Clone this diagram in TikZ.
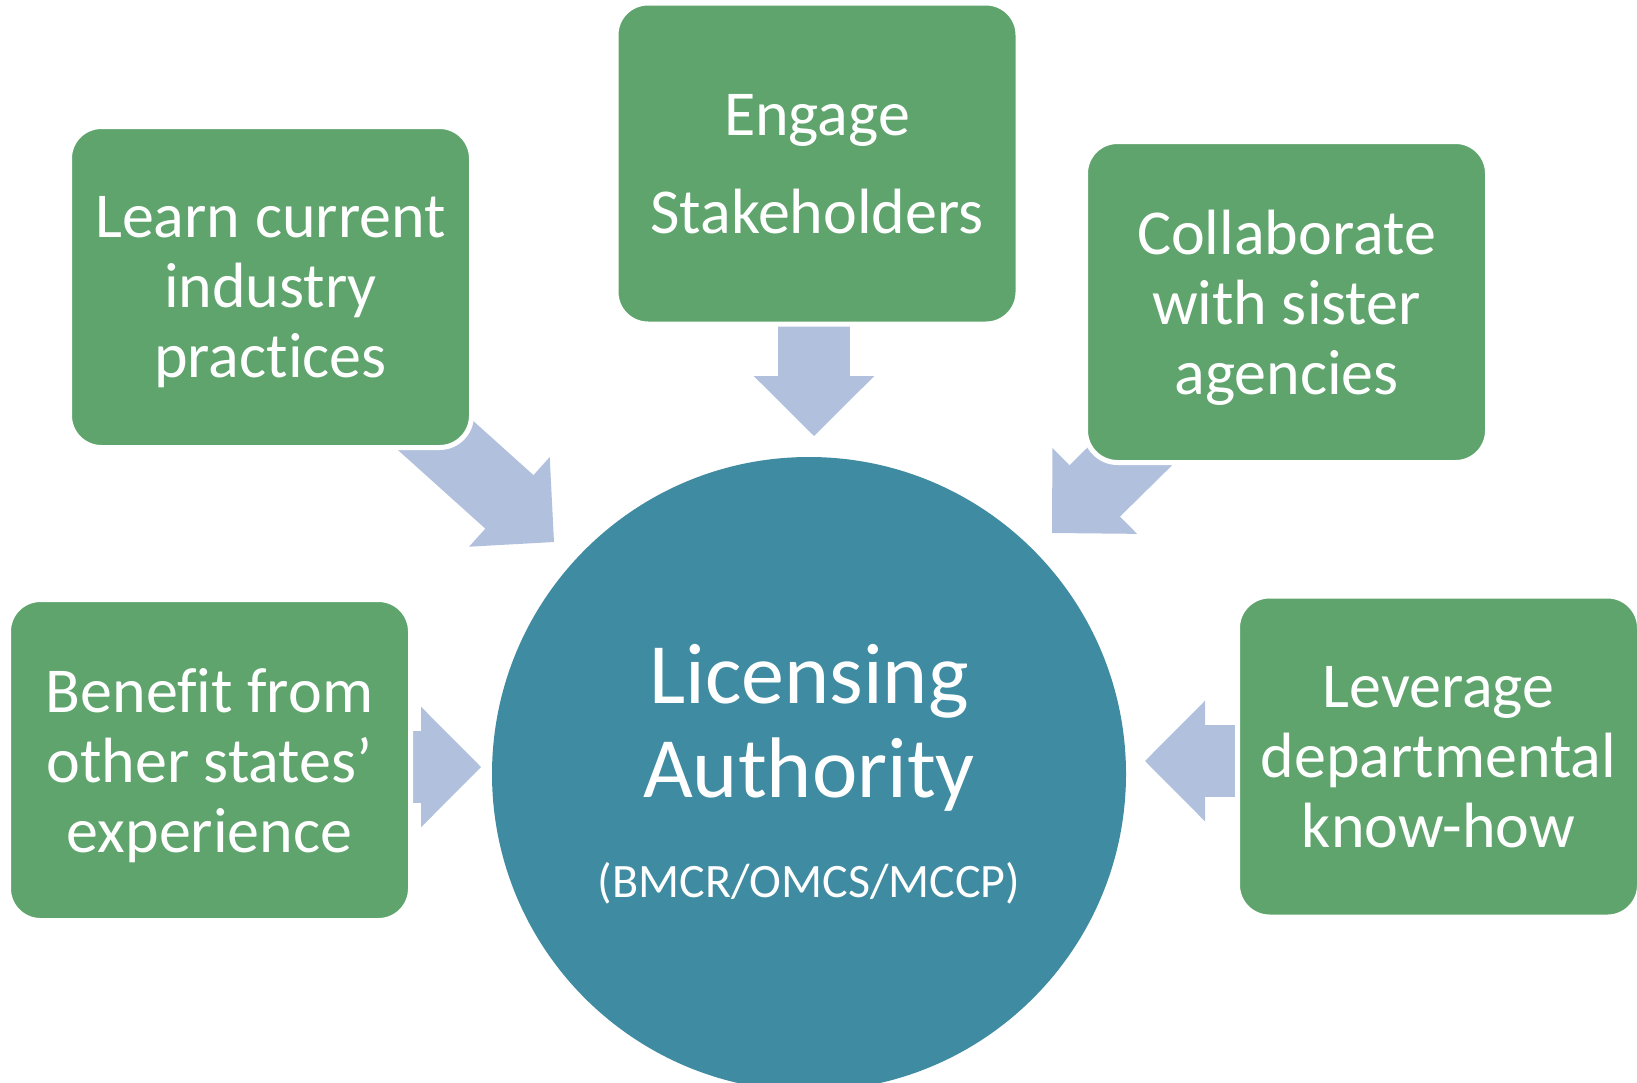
\documentclass[tikz,border=0pt]{standalone}
\usepackage{fontspec}
\setmainfont{Carlito}[Ligatures=NoCommon]
\usetikzlibrary{arrows.meta}
\definecolor{boxgreen}{RGB}{94,164,108}
\definecolor{hubteal}{RGB}{63,139,161}
\definecolor{feedblue}{RGB}{177,193,221}
\pgfdeclarelayer{back}
\pgfsetlayers{back,main}
\tikzset{
  goal/.style={draw=white, line width=5pt, fill=boxgreen, rounded corners=32pt,
    minimum width=402pt, minimum height=321pt, text=white, align=center,
    text depth=0pt, font=\fontsize{64}{70}\selectfont},
  hub/.style={circle, fill=hubteal, minimum size=634pt, inner sep=0pt,
    text=white, align=center, font=\fontsize{86}{94}\selectfont},
  feed/.style={feedblue, line width=72pt,
    -{Triangle[length=60pt,width=120pt,line width=3pt]}}
}
\begin{document}
\begin{tikzpicture}[x=1pt,y=-1pt]
\useasboundingbox (0,0) rectangle (1637,1082);
% centre
\node[hub] (hub) at (809,774)
  {Licensing\\Authority\\[6pt]{\fontsize{48}{60}\selectfont (BMCR/OMCS/MCCP)}};
% the five boxes
\node[goal, font=\fontsize{64}{98}\selectfont] (engage) at (817,163.5) {Engage\\Stakeholders};
\node[goal] (learn) at (270.5,287) {Learn current\\industry\\practices};
\node[goal] (collab) at (1286.5,302) {Collaborate\\with sister\\agencies};
\node[goal] (benefit) at (209.5,760) {Benefit from\\other states’\\experience};
\node[goal] (leverage) at (1438.5,756.5) {Leverage\\departmental\\know-how};
% arrow tips
\coordinate (engagetip) at (814,436);
\coordinate (learntip) at (554,542);
\coordinate (collabtip) at (1052,533);
\coordinate (benefittip) at (481,767);
\coordinate (leveragetip) at (1145,761);
\begin{pgfonlayer}{back}
\fill[white] (0,0) rectangle (1637,1082);
\draw[feed] (engage.center -| engagetip) -- (engagetip);
\draw[feed] (learn.center) -- (learntip);
\draw[feed] (collab.center) -- (collabtip);
\draw[feed] (benefit.center |- benefittip) -- (benefittip);
\draw[feed] (leverage.center |- leveragetip) -- (leveragetip);
\end{pgfonlayer}
\end{tikzpicture}
\end{document}
